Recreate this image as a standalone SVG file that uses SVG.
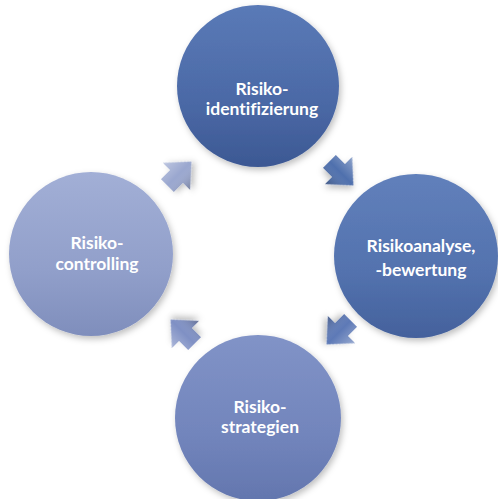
<svg xmlns="http://www.w3.org/2000/svg" width="498" height="499" viewBox="0 0 498 499">
  <defs>
    <linearGradient id="gTop" x1="0" y1="0" x2="0" y2="1">
      <stop offset="0" stop-color="#5a7ab7"/>
      <stop offset="0.6" stop-color="#4b69a6"/>
      <stop offset="1" stop-color="#3c5893"/>
    </linearGradient>
    <linearGradient id="gRight" x1="0" y1="0" x2="0" y2="1">
      <stop offset="0" stop-color="#6180bb"/>
      <stop offset="0.6" stop-color="#5372ae"/>
      <stop offset="1" stop-color="#44619c"/>
    </linearGradient>
    <linearGradient id="gBottom" x1="0" y1="0" x2="0" y2="1">
      <stop offset="0" stop-color="#8193c7"/>
      <stop offset="0.6" stop-color="#7285bc"/>
      <stop offset="1" stop-color="#6376ae"/>
    </linearGradient>
    <linearGradient id="gLeft" x1="0" y1="0" x2="0" y2="1">
      <stop offset="0" stop-color="#a2afd6"/>
      <stop offset="0.6" stop-color="#919fca"/>
      <stop offset="1" stop-color="#7f8ebc"/>
    </linearGradient>
    <linearGradient id="aBevel" x1="0" y1="0" x2="0" y2="1">
      <stop offset="0" stop-color="#ffffff" stop-opacity="0.35"/>
      <stop offset="0.5" stop-color="#ffffff" stop-opacity="0"/>
      <stop offset="1" stop-color="#000000" stop-opacity="0.25"/>
    </linearGradient>
    <filter id="sh" x="-20%" y="-20%" width="140%" height="140%">
      <feDropShadow dx="2" dy="3" stdDeviation="3" flood-color="#000" flood-opacity="0.25"/>
    </filter>
    <polygon id="arr" points="-15,-9 -2,-9 -2,-19 19,0 -2,19 -2,9 -15,9"/>
  </defs>
  <style>
    .lbl { font-family: Lato, "Open Sans", "Liberation Sans", sans-serif; font-weight: bold; font-size: 17.5px; fill: #ffffff; text-anchor: middle; font-variant-ligatures: none; }
    .node circle { filter: url(#sh); }
    .arrow use { stroke: none; }
  </style>
  <rect width="498" height="499" fill="#ffffff"/>

  <g id="connectors" class="arrow">
    <g transform="translate(178,175) rotate(-45)">
      <use href="#arr" fill="#9aa7cf" filter="url(#sh)"/>
      <use href="#arr" fill="url(#aBevel)"/>
    </g>
    <g transform="translate(340,172) rotate(45)">
      <use href="#arr" fill="#5070ad" filter="url(#sh)"/>
      <use href="#arr" fill="url(#aBevel)"/>
    </g>
    <g transform="translate(340,331) rotate(135)">
      <use href="#arr" fill="#5d79b6" filter="url(#sh)"/>
      <use href="#arr" fill="url(#aBevel)"/>
    </g>
    <g transform="translate(184,333) rotate(-135)">
      <use href="#arr" fill="#7f90c4" filter="url(#sh)"/>
      <use href="#arr" fill="url(#aBevel)"/>
    </g>
  </g>

  <g id="node-identifizierung" class="node">
    <circle cx="258" cy="86" r="81" fill="url(#gTop)"/>
    <text class="lbl" x="262" y="95">Risiko-</text>
    <text class="lbl" x="262" y="115">identifizierung</text>
  </g>
  <g id="node-analyse" class="node">
    <circle cx="416" cy="256" r="82" fill="url(#gRight)"/>
    <text class="lbl" x="421" y="252">Risikoanalyse,</text>
    <text class="lbl" x="421" y="276">-bewertung</text>
  </g>
  <g id="node-strategien" class="node">
    <circle cx="258" cy="418" r="83" fill="url(#gBottom)"/>
    <text class="lbl" x="260" y="413">Risiko-</text>
    <text class="lbl" x="260" y="433">strategien</text>
  </g>
  <g id="node-controlling" class="node">
    <circle cx="91" cy="254" r="82" fill="url(#gLeft)"/>
    <text class="lbl" x="97" y="249">Risiko-</text>
    <text class="lbl" x="97" y="270">controlling</text>
  </g>
</svg>
